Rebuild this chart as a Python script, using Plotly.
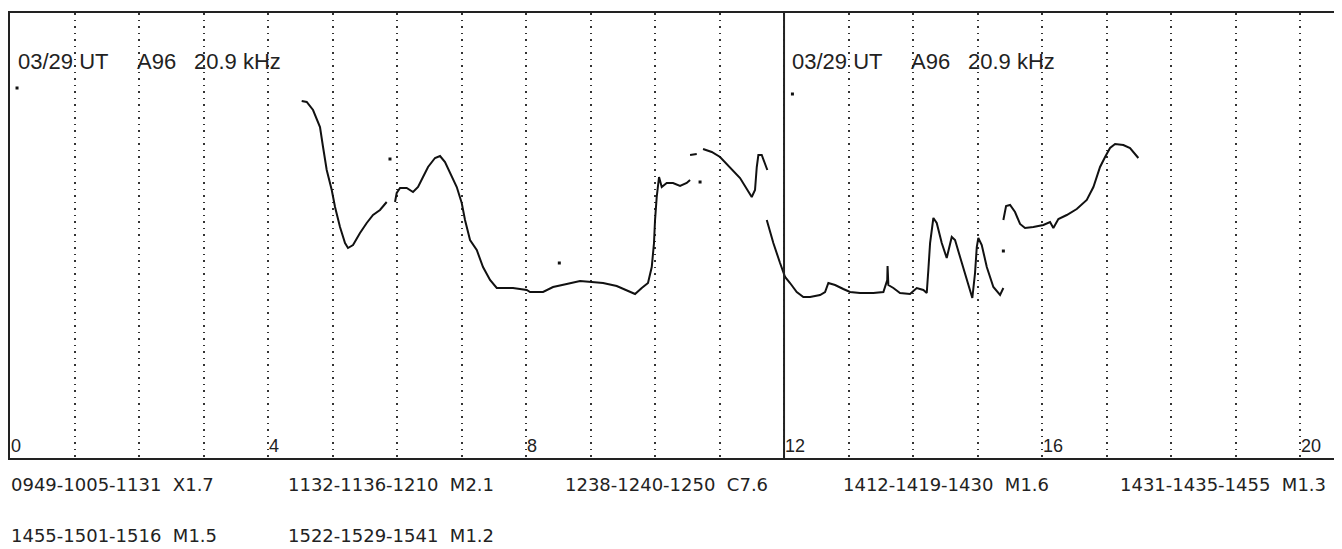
import plotly.graph_objects as go

# ---------------- data (UT hours, relative amplitude) ----------------
seg1_hours = [4.522, 4.600, 4.698, 4.806, 4.853, 4.910, 4.988, 5.039, 5.116, 5.194,
              5.240, 5.318, 5.426, 5.530, 5.628, 5.736, 5.840]
seg1_amp = [357, 356, 348, 331, 311, 288, 268, 251, 231, 215,
            210, 213, 225, 235, 243, 248, 256]

seg2_hours = [5.969, 5.995, 6.047, 6.150, 6.248, 6.326, 6.403, 6.481, 6.589, 6.667,
              6.744, 6.822, 6.926, 7.003, 7.054, 7.132, 7.236, 7.333, 7.442, 7.546,
              7.798, 8.011, 8.062, 8.264, 8.419, 8.631, 8.837, 9.019, 9.194, 9.406,
              9.561, 9.690, 9.794, 9.891, 9.949, 9.984, 10.000, 10.026, 10.062, 10.104,
              10.181, 10.279, 10.388, 10.491, 10.543]
seg2_amp = [256, 265, 270, 270, 266, 271, 281, 291, 300, 302,
            296, 285, 271, 255, 238, 218, 208, 191, 178, 170,
            170, 168, 166, 166, 171, 174, 177, 176, 175, 172,
            168, 164, 170, 175, 191, 215, 238, 261, 281, 271,
            275, 275, 272, 275, 278]

seg3_hours = [10.543, 10.647]
seg3_amp = [303, 304]

seg4_hours = [10.744, 10.879, 11.008, 11.163, 11.318, 11.499, 11.550, 11.577, 11.602,
              11.654, 11.741]
seg4_amp = [309, 306, 301, 291, 280, 261, 268, 291, 303, 303, 288]

seg5_hours = [11.732, 11.834, 11.938, 12.016, 12.093, 12.197, 12.299, 12.403, 12.558,
              12.636, 12.687, 12.791, 12.919, 13.023, 13.178, 13.384, 13.540, 13.600,
              13.605, 13.617, 13.695, 13.798, 13.953, 14.057, 14.160, 14.212, 14.237,
              14.264, 14.315, 14.367, 14.445, 14.522, 14.600, 14.651, 14.729, 14.833,
              14.919, 14.961, 14.988, 15.012, 15.065, 15.143, 15.245, 15.349, 15.400]
seg5_amp = [238, 215, 195, 181, 175, 166, 161, 161, 163,
            166, 175, 173, 169, 166, 165, 165, 166, 178,
            192, 173, 170, 165, 164, 170, 168, 165, 188,
            215, 240, 235, 215, 200, 221, 218, 201, 178,
            160, 185, 211, 220, 213, 191, 171, 163, 170]

seg6_hours = [15.400, 15.442, 15.504, 15.581, 15.659, 15.736, 15.865, 16.020, 16.124,
              16.175, 16.253, 16.383, 16.538, 16.693, 16.796, 16.899, 16.977, 17.054,
              17.132, 17.260, 17.364, 17.493]
seg6_amp = [238, 252, 253, 246, 234, 230, 231, 233, 236,
            230, 239, 243, 249, 258, 271, 291, 301, 310,
            314, 313, 310, 300]

stray_hours = [0.109, 5.891, 8.516, 10.698, 12.130, 15.400]
stray_amp = [370, 299, 195, 276, 364, 207]

hour_ticks = [0, 4, 8, 12, 16, 20]
panel_starts = [0, 12]
header_texts = ["03/29 UT", "A96", "20.9 kHz"]
header_offsets = [0.093, 1.938, 2.822]

flare_row1 = ["0949-1005-1131  X1.7", "1132-1136-1210  M2.1", "1238-1240-1250  C7.6",
              "1412-1419-1430  M1.6", "1431-1435-1455  M1.3"]
flare_row2 = ["1455-1501-1516  M1.5", "1522-1529-1541  M1.2"]

# ---------------- figure ----------------
# the page body has an 8px default margin, so the figure is 8px smaller
W, H = 1334, 541
L, R, T, B = 2, 0, 5, 91
X_MAX = 20.65
Y_MAX = 445
PLOT_W = W - L - R

fig = go.Figure()
segs = [(seg1_hours, seg1_amp), (seg2_hours, seg2_amp), (seg3_hours, seg3_amp),
        (seg4_hours, seg4_amp), (seg5_hours, seg5_amp), (seg6_hours, seg6_amp)]
for hx, ay in segs:
    fig.add_trace(go.Scatter(x=hx, y=ay, mode="lines",
                             line=dict(color="#111111", width=2),
                             hoverinfo="skip", showlegend=False))
fig.add_trace(go.Scatter(x=stray_hours, y=stray_amp, mode="markers",
                         marker=dict(color="#111111", size=3, symbol="square"),
                         hoverinfo="skip", showlegend=False))

# panel divider at 12 UT
fig.add_shape(type="line", xref="x", yref="paper", x0=12, x1=12, y0=0, y1=1,
              line=dict(color="#222222", width=2))

# headers in each panel
for p0 in panel_starts:
    for txt, off in zip(header_texts, header_offsets):
        fig.add_annotation(x=p0 + off, y=0.89, xref="x", yref="paper",
                           text=txt, showarrow=False, xanchor="left", yanchor="middle",
                           font=dict(family="Liberation Sans", size=22, color="#222222"))

# flare list below
cell = 277.3 / PLOT_W
for i, txt in enumerate(flare_row1):
    fig.add_annotation(x=-0.001 + i * cell, y=-0.06, xref="paper", yref="paper",
                       text=txt, showarrow=False, xanchor="left", yanchor="middle",
                       font=dict(family="DejaVu Sans", size=18, color="#222222"))
for i, txt in enumerate(flare_row2):
    fig.add_annotation(x=-0.001 + i * cell, y=-0.175, xref="paper", yref="paper",
                       text=txt, showarrow=False, xanchor="left", yanchor="middle",
                       font=dict(family="DejaVu Sans", size=18, color="#222222"))

fig.update_layout(
    width=W, height=H,
    margin=dict(l=L, r=R, t=T, b=B, pad=0, autoexpand=False),
    paper_bgcolor="white", plot_bgcolor="white",
    xaxis=dict(range=[0, X_MAX], tickvals=hour_ticks, ticktext=[str(t) for t in hour_ticks],
               ticks="", ticklabelposition="inside right",
               tickfont=dict(family="Liberation Sans", size=18, color="#222222"),
               showgrid=True, gridcolor="#333333", gridwidth=1.5, griddash="1.5px,5px",
               minor=dict(dtick=1, showgrid=True, gridcolor="#333333", gridwidth=1.5,
                          griddash="1.5px,5px"),
               showline=True, linecolor="#222222", linewidth=2, mirror=True,
               zeroline=False, fixedrange=True),
    yaxis=dict(range=[0, Y_MAX], showticklabels=False, ticks="", showgrid=False,
               zeroline=False, showline=True, linecolor="#222222", linewidth=2,
               fixedrange=True),
)

fig.write_html("out.html")
